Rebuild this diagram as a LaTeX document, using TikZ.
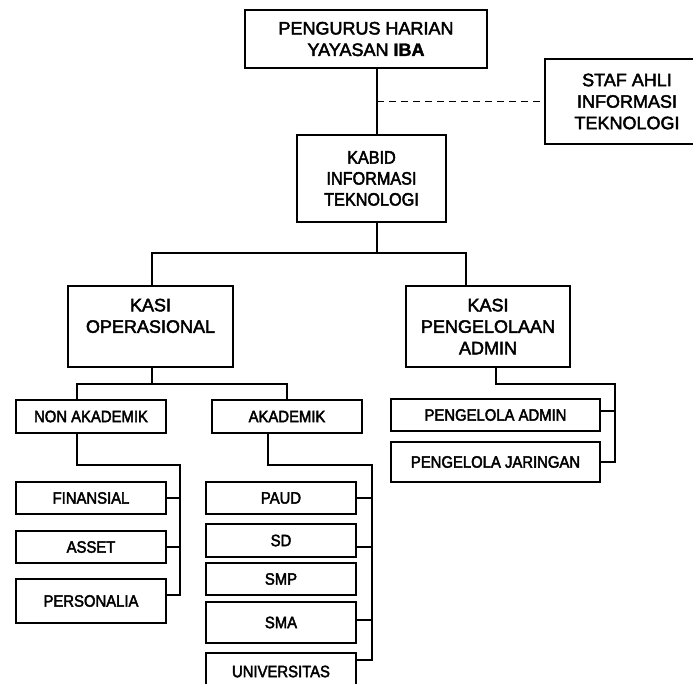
\documentclass[tikz,border=0pt]{standalone}
\usepackage{fontspec}
\setmainfont{Liberation Sans}[FakeBold=2.5]
\newfontfamily\narrowfont{Liberation Sans}[FakeStretch=0.9, FakeBold=2.5]
\newfontfamily\heavyfont{Liberation Sans Bold}[FakeBold=2]
\usetikzlibrary{positioning}

\begin{document}
\begin{tikzpicture}[x=1pt, y=-1pt, line width=1.2pt,
    box/.style={draw, rectangle, align=center, inner sep=0pt,
                font=\fontsize{18}{21.5}\selectfont},
    smallbox/.style={draw, rectangle, align=center, inner sep=0pt,
                minimum width=150pt, font=\narrowfont\fontsize{16.5}{18}\selectfont}]
    \clip (0,0) rectangle (693,684);

    % Top level
    \node[box, minimum width=242pt, minimum height=58pt] (top) at (366,39)
        {PENGURUS HARIAN\\YAYASAN {\heavyfont IBA}};
    \node[box, minimum width=164pt, minimum height=85pt] (staf) at (627,101.5)
        {STAF AHLI\\INFORMASI\\TEKNOLOGI};
    \node[box, minimum width=149pt, minimum height=87pt,
          font=\narrowfont\fontsize{18}{21}\selectfont] (kabid) at (371.5,178.5)
        {KABID\\INFORMASI\\TEKNOLOGI};

    % Kasi
    \node[box, minimum width=165pt, minimum height=81pt] (kasiop) at (150.5,326.5)
        {KASI\\OPERASIONAL\\\mbox{}};
    \node[box, minimum width=164pt, minimum height=81pt] (kasiadm) at (488,326.5)
        {KASI\\PENGELOLAAN\\ADMIN};

    % Operasional branch
    \node[smallbox, minimum height=33pt] (nonak) at (91,416.5) {NON AKADEMIK};
    \node[smallbox, minimum height=33pt] (akad) at (287,416.5) {AKADEMIK};

    \node[smallbox, minimum height=32pt] (fin) at (91,498) {FINANSIAL};
    \node[smallbox, minimum height=32pt] (asset) at (91,547) {ASSET};
    \node[smallbox, minimum height=44pt] (pers) at (91,601) {PERSONALIA};

    \node[smallbox, minimum height=32pt] (paud) at (281,498) {PAUD};
    \node[smallbox, minimum height=33pt] (sd) at (281,540.5) {SD};
    \node[smallbox, minimum height=32pt] (smp) at (281,579) {SMP};
    \node[smallbox, minimum height=41pt] (sma) at (281,622.5) {SMA};
    \node[smallbox, minimum height=37pt] (univ) at (281,671.5) {UNIVERSITAS};

    % Admin branch
    \node[smallbox, minimum width=209pt, minimum height=32pt] (padm) at (495.5,415)
        {PENGELOLA ADMIN};
    \node[smallbox, minimum width=209pt, minimum height=40pt] (pjar) at (495.5,462)
        {PENGELOLA JARINGAN};

    % Lines
    \coordinate (spine) at (377,0);
    \coordinate (bar) at (377,253);
    \draw (top.south -| spine) -- (kabid.north -| spine);
    \draw[line width=1pt, dash pattern=on 7pt off 5pt] (spine |- staf.west) -- (staf.west);
    \draw (kabid.south -| spine) -- (bar);
    \draw ([xshift=1.5pt]kasiop.north) |- (bar) -| ([xshift=-22pt]kasiadm.north);

    \coordinate (opbar) at (152,384);
    \draw ([xshift=1.5pt]kasiop.south) -- (opbar);
    \draw ([xshift=-14pt]nonak.north) |- (opbar) -| (akad.north);

    % Non akademik rail
    \coordinate (nonrail) at (180,465);
    \draw ([xshift=-14pt]nonak.south) |- (nonrail) |- ([yshift=6pt]pers.east);
    \draw (fin.east) -- (fin.east -| nonrail);
    \draw (asset.east) -- (asset.east -| nonrail);

    % Akademik rail
    \coordinate (akrail) at (372,465);
    \draw ([xshift=-19pt]akad.south) |- (akrail) |- ([yshift=11.5pt]univ.east);
    \draw (paud.east) -- (paud.east -| akrail);
    \draw ([yshift=-6.5pt]sd.east) -- ([yshift=-6.5pt]sd.east -| akrail);
    \draw ([yshift=2.5pt]sma.east) -- ([yshift=2.5pt]sma.east -| akrail);

    % Admin rail
    \coordinate (admrail) at (615,384);
    \draw ([xshift=8pt]kasiadm.south) |- (admrail) |- (pjar.east);
    \draw ([yshift=4pt]padm.east) -- ([yshift=4pt]padm.east -| admrail);
\end{tikzpicture}
\end{document}
